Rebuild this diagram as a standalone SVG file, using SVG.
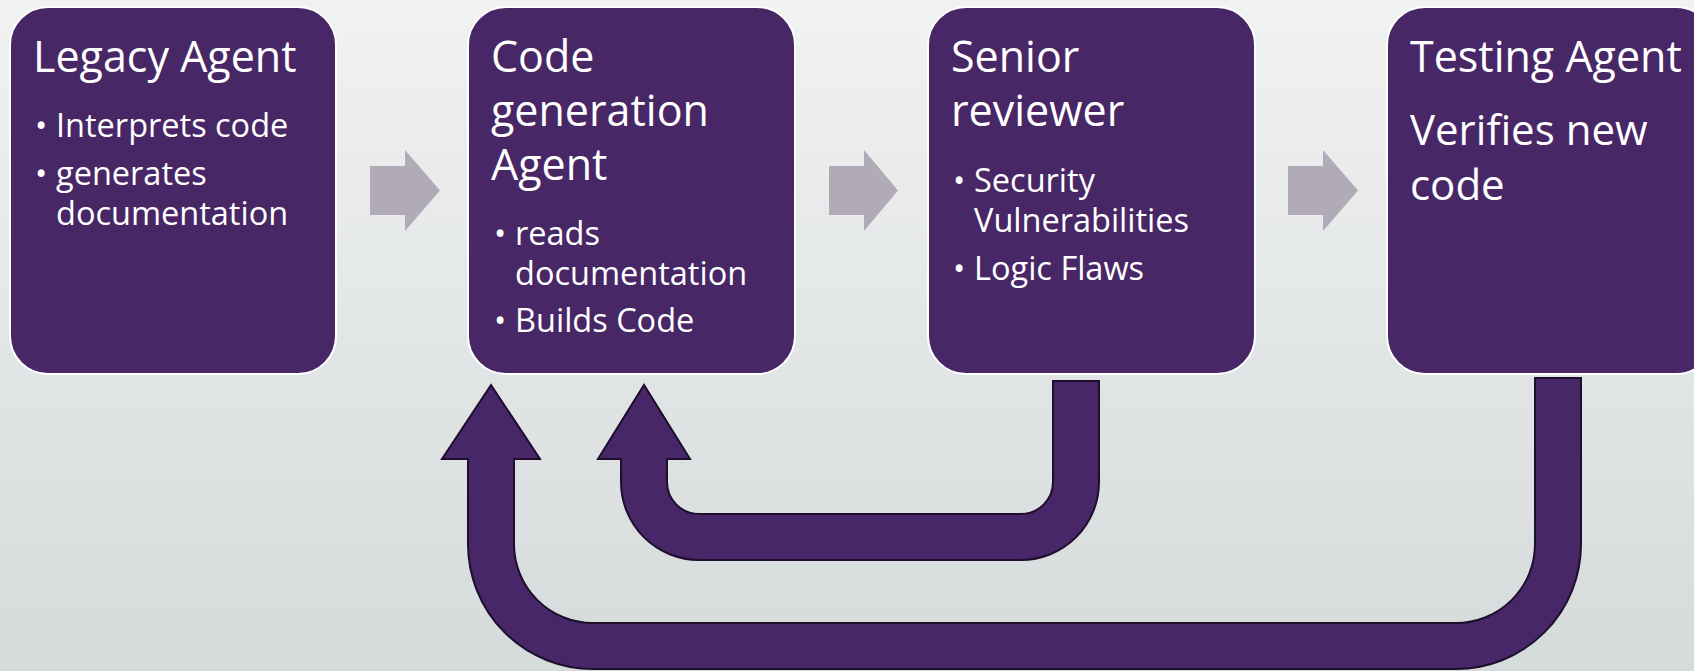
<svg xmlns="http://www.w3.org/2000/svg" width="1694" height="671" viewBox="0 0 1694 671">
<defs>
<linearGradient id="bg" x1="0" y1="0" x2="0" y2="1">
<stop offset="0" stop-color="#f1f2f2"/>
<stop offset="1" stop-color="#d5dadb"/>
</linearGradient>
<style>
.box{fill:#482767;stroke:#ffffff;stroke-width:2}
.t{font-family:"Open Sans","Noto Sans",sans-serif;fill:#ffffff}
.title{font-size:43px}
.body{font-size:32.5px}
.flow{fill:#b1abb7}
.loop{fill:#472768;stroke:#1d0f2c;stroke-width:2;stroke-linejoin:miter}
</style>
</defs>
<rect x="0" y="0" width="1694" height="671" fill="url(#bg)"/>

<g id="legacy-agent">
<rect class="box" x="10" y="7" width="326" height="367" rx="38"/>
<text class="t title" x="33" y="72">Legacy Agent</text>
<text class="t body" x="35" y="137">•</text>
<text class="t body" x="56" y="137">Interprets code</text>
<text class="t body" x="35" y="185">•</text>
<text class="t body"><tspan x="56" y="185">generates</tspan><tspan x="56" y="225">documentation</tspan></text>
</g>

<g id="code-generation-agent">
<rect class="box" x="468" y="7" width="327" height="367" rx="38"/>
<text class="t title"><tspan x="491" y="72">Code</tspan><tspan x="491" y="126">generation</tspan><tspan x="491" y="180">Agent</tspan></text>
<text class="t body" x="494" y="245">•</text>
<text class="t body"><tspan x="515" y="245">reads</tspan><tspan x="515" y="285">documentation</tspan></text>
<text class="t body" x="494" y="332">•</text>
<text class="t body" x="515" y="332">Builds Code</text>
</g>

<g id="senior-reviewer">
<rect class="box" x="928" y="7" width="327" height="367" rx="38"/>
<text class="t title"><tspan x="951" y="72">Senior</tspan><tspan x="951" y="126">reviewer</tspan></text>
<text class="t body" x="953" y="192">•</text>
<text class="t body"><tspan x="974" y="192">Security</tspan><tspan x="974" y="232">Vulnerabilities</tspan></text>
<text class="t body" x="953" y="280">•</text>
<text class="t body" x="974" y="280">Logic Flaws</text>
</g>

<g id="testing-agent">
<rect class="box" x="1387" y="7" width="327" height="367" rx="38"/>
<text class="t title" x="1410" y="72">Testing Agent</text>
<text class="t" font-size="42"><tspan x="1410" y="145">Verifies new</tspan><tspan x="1410" y="200">code</tspan></text>
</g>

<g id="connectors">
<polygon class="flow" points="370,166 405,166 405,150 440,190.5 405,231 405,215 370,215"/>
<polygon class="flow" points="829,166 864,166 864,150 898,190.5 864,231 864,215 829,215"/>
<polygon class="flow" points="1288,166 1323,166 1323,150 1358,190.5 1323,231 1323,215 1288,215"/>
<path class="loop" d="M1053,381 L1099,381 L1099,482 A78,78 0 0 1 1021,560 L699,560 A78,78 0 0 1 621,482 L621,459 L598,459 L644,385 L690,459 L667,459 L667,482 A32,32 0 0 0 699,514 L1021,514 A32,32 0 0 0 1053,482 Z"/>
<path class="loop" d="M1535,378 L1581,378 L1581,544 A125,125 0 0 1 1456,669 L593,669 A125,125 0 0 1 468,544 L468,459 L442,459 L491,385 L540,459 L514,459 L514,544 A79,79 0 0 0 593,623 L1456,623 A79,79 0 0 0 1535,544 Z"/>
</g>
</svg>
